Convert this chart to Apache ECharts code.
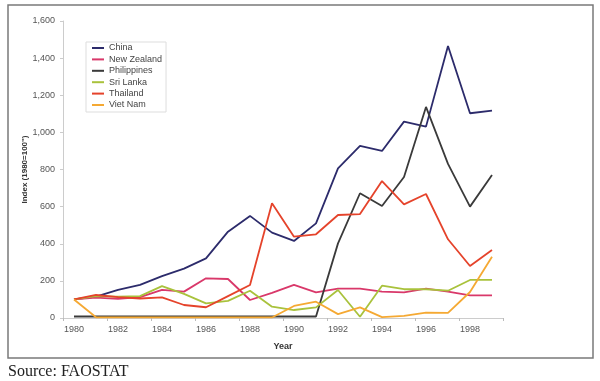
<!DOCTYPE html>
<html><head><meta charset="utf-8">
<script src="https://cdn.jsdelivr.net/npm/echarts@6/dist/echarts.min.js"></script>
<style>html,body{margin:0;padding:0;background:#fff}#c{width:600px;height:381px}</style>
</head><body><div id="c"></div>
<script>
var years = ['1980','1981','1982','1983','1984','1985','1986','1987','1988','1989','1990','1991','1992','1993','1994','1995','1996','1997','1998','1999'];
var china       = [100,115,151,178,226,266,321,465,550,460,415,510,806,927,900,1058,1031,1465,1103,1117];
var newZealand  = [100,110,103,112,151,142,214,210,97,135,178,138,158,158,142,138,158,142,122,122];
var philippines = [8,8,8,8,8,8,8,8,8,8,8,8,402,672,603,760,1137,830,600,770];
var sriLanka    = [100,118,115,118,172,130,79,92,147,61,43,57,151,7,174,155,155,147,205,205];
var thailand    = [100,124,112,105,111,70,58,118,178,618,438,451,555,560,738,612,668,424,280,366];
var vietNam     = [100,4,3,3,3,3,3,3,3,3,65,88,21,57,5,11,29,28,140,330];
var yTicks = [0,200,400,600,800,1000,1200,1400,1600];

var names = ['China','New Zealand','Philippines','Sri Lanka','Thailand','Viet Nam'];
var colors = ['#2c2b6b','#d9386a','#3a3a3a','#a9c23c','#e5432b','#f5a933'];
var datas = [china,newZealand,philippines,sriLanka,thailand,vietNam];

var chart = echarts.init(document.getElementById('c'), null, {renderer:'canvas'});
var series = names.map(function(n,i){
  return {name:n,type:'line',data:datas[i],symbol:'none',smooth:false,
    lineStyle:{color:colors[i],width:1.8},itemStyle:{color:colors[i]},z:2+i};
});
chart.setOption({
  animation:false,
  backgroundColor:'#fff',
  textStyle:{fontFamily:'Liberation Sans, Arial, sans-serif'},
  grid:{left:63,right:97,top:21,bottom:63},
  legend:{orient:'vertical',left:86,top:42,data:names,icon:'rect',itemWidth:12,itemHeight:2,
    itemGap:1.4,padding:[1,4,2,6],borderColor:'#ddd',borderWidth:1,
    textStyle:{fontSize:9,color:'#444',lineHeight:10}},
  xAxis:{type:'category',data:years,boundaryGap:true,name:'Year',nameLocation:'middle',nameGap:24,
    nameTextStyle:{fontSize:9,fontWeight:'bold',color:'#333'},
    axisLine:{lineStyle:{color:'#ccc',width:1}},
    axisTick:{show:true,interval:1,length:3,lineStyle:{color:'#bbb'}},
    axisLabel:{interval:1,fontSize:9,color:'#555',margin:7},
    splitLine:{show:false}},
  yAxis:{type:'value',min:yTicks[0],max:yTicks[yTicks.length-1],interval:200,
    name:'Index (1980=100")',nameLocation:'middle',nameGap:34,nameRotate:90,nameMoveOverlap:false,
    nameTextStyle:{fontSize:8,fontWeight:'bold',color:'#333'},
    axisLine:{show:true,lineStyle:{color:'#ccc'}},
    axisTick:{show:true,length:3,lineStyle:{color:'#ccc'}},
    axisLabel:{fontSize:9,color:'#555',margin:8,formatter:function(v){return v.toLocaleString('en-US');}},
    splitLine:{show:false}},
  graphic:[
    {type:'rect',shape:{x:8,y:5,width:585,height:353},style:{fill:'none',stroke:'#7a7a7a',lineWidth:1.5},z:0},
    {type:'text',left:8,top:364,style:{text:'Source: FAOSTAT',font:'16px "Liberation Serif", "Times New Roman", serif',fill:'#222'}}
  ],
  series:series
});
</script></body></html>
